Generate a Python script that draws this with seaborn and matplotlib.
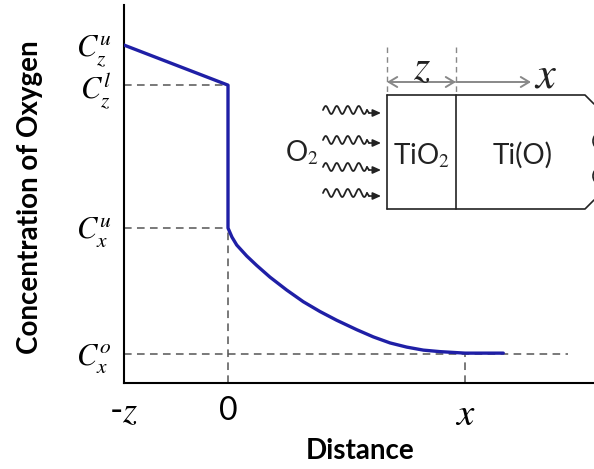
import numpy as np
import pandas as pd
import matplotlib
matplotlib.use("Agg")
import matplotlib.pyplot as plt
from matplotlib.patches import Arc
import seaborn as sns

# ---------------- data ----------------
distance = [-1.0, 0.0, 0.0, 0.038, 0.084, 0.180, 0.276, 0.404, 0.564, 0.724,
            0.885, 1.045, 1.238, 1.397, 1.558, 1.718, 1.878, 2.038, 2.279, 2.647]
concentration = [0.894, 0.788, 0.410, 0.386, 0.365, 0.336, 0.311, 0.280, 0.246,
                  0.215, 0.189, 0.166, 0.141, 0.122, 0.106, 0.095, 0.087, 0.083,
                  0.079, 0.079]
ytick_values = [0.894, 0.788, 0.410, 0.076]
ytick_labels = [r'$C_z^u$', r'$C_z^l$', r'$C_x^u$', r'$C_x^o$']
xtick_values = [-1.0, 0.0, 2.279]
xtick_labels = ['-$z$', '0', '$x$']
x_right_dash = 3.27

sns.set_theme(style="white")
plt.rcParams['font.family'] = ['Lato', 'DejaVu Sans']
plt.rcParams['mathtext.fontset'] = 'stix'

W, H = 594, 469
fig = plt.figure(figsize=(W / 100, H / 100), dpi=100)
fig.patch.set_facecolor('white')
ax = fig.add_axes([124 / W, (H - 383) / H, (W - 124) / W, (383 - 5) / H])
ax.set_facecolor('white')

df = pd.DataFrame({'Distance': distance, 'Concentration': concentration})

dash_kw = dict(color='#555555', lw=1.1, linestyle=(0, (5, 3.5)), zorder=1)
ax.hlines([ytick_values[1], ytick_values[2]], xtick_values[0], xtick_values[1], **dash_kw)
ax.hlines(ytick_values[3], xtick_values[0], x_right_dash, **dash_kw)
ax.vlines(xtick_values[1], 0, ytick_values[2], **dash_kw)
ax.vlines(xtick_values[2], 0, ytick_values[3], **dash_kw)

sns.lineplot(data=df, x='Distance', y='Concentration', sort=False, estimator=None,
             color='#1f1fa6', lw=2.4, ax=ax, zorder=3)

ax.set_xlim(-1.0, (W - 228) / 104)
ax.set_ylim(0, 1)
for s in ['top', 'right']:
    ax.spines[s].set_visible(False)
for s in ['left', 'bottom']:
    ax.spines[s].set_color('black')
    ax.spines[s].set_linewidth(1.5)

ax.set_yticks(ytick_values)
ax.set_yticklabels(ytick_labels, fontsize=22)
ax.set_xticks(xtick_values)
ax.set_xticklabels(xtick_labels)
for lab, fs in zip(ax.get_xticklabels(), [26, 23, 28]):
    lab.set_fontsize(fs)
ax.tick_params(axis='both', length=0, colors='black')
ax.tick_params(axis='y', pad=9)
ax.tick_params(axis='x', pad=9)
ax.set_xlabel('')
ax.set_ylabel('')

fig.text(30 / W, 1 - 197 / H, 'Concentration of Oxygen', rotation=90,
         ha='center', va='center', fontsize=20, fontweight='bold', color='black')
fig.text(360 / W, 1 - 451 / H, 'Distance', ha='center', va='center',
         fontsize=20, fontweight='bold', color='black')

# ---------------- inset schematic (figure pixel coordinates) ----------------
ov = fig.add_axes([0, 0, 1, 1], zorder=5)
ov.set_xlim(0, W)
ov.set_ylim(H, 0)
ov.axis('off')
ov.patch.set_alpha(0)

box_kw = dict(color='#222222', lw=1.2)
ov.plot([387, 585, 594], [95, 95, 104], **box_kw)
ov.plot([387, 585, 594], [209, 209, 200], **box_kw)
ov.plot([387, 387], [95, 209], **box_kw)
ov.plot([456, 456], [95, 209], **box_kw)
ov.add_patch(Arc((598, 141), 10, 14, theta1=90, theta2=270, color='#222222', lw=1.2))
ov.add_patch(Arc((598, 176), 10, 14, theta1=90, theta2=270, color='#222222', lw=1.2))

gdash = dict(color='#888888', lw=1.0, linestyle=(0, (4, 3)))
ov.plot([387, 387], [47, 95], **gdash)
ov.plot([456, 456], [47, 95], **gdash)
ov.annotate('', xy=(387, 82), xytext=(456, 82),
            arrowprops=dict(arrowstyle='<->,head_length=0.5,head_width=0.3',
                            color='#888888', lw=1.4, shrinkA=0, shrinkB=0))
ov.annotate('', xy=(531, 82), xytext=(456, 82),
            arrowprops=dict(arrowstyle='->,head_length=0.5,head_width=0.3',
                            color='#888888', lw=1.4, shrinkA=0, shrinkB=0))
ov.text(422, 67, '$z$', fontsize=30, ha='center', va='center', color='#222222')
ov.text(546, 75, '$x$', fontsize=32, ha='center', va='center', color='#222222')

t = np.linspace(0, 1, 200)
for y0 in [110, 140, 167, 193]:
    ov.plot(323 + 44 * t, y0 - 4.0 * np.sin(2 * np.pi * 4 * t), color='#222222', lw=1.3)
    ov.plot([367, 369], [y0, y0 + 3], color='#222222', lw=1.3)
    ov.annotate('', xy=(381, y0 + 3), xytext=(369, y0 + 3),
                arrowprops=dict(arrowstyle='-|>,head_length=0.4,head_width=0.18',
                                color='#222222', lw=1.2, shrinkA=0, shrinkB=0))

ov.text(302, 153, r'O$_2$', fontsize=20, ha='center', va='center', color='#222222')
ov.text(421, 156, r'TiO$_2$', fontsize=20, ha='center', va='center', color='#222222')
ov.text(523, 155, 'Ti(O)', fontsize=20, ha='center', va='center', color='#222222')

fig.savefig('out.png', dpi=100)
